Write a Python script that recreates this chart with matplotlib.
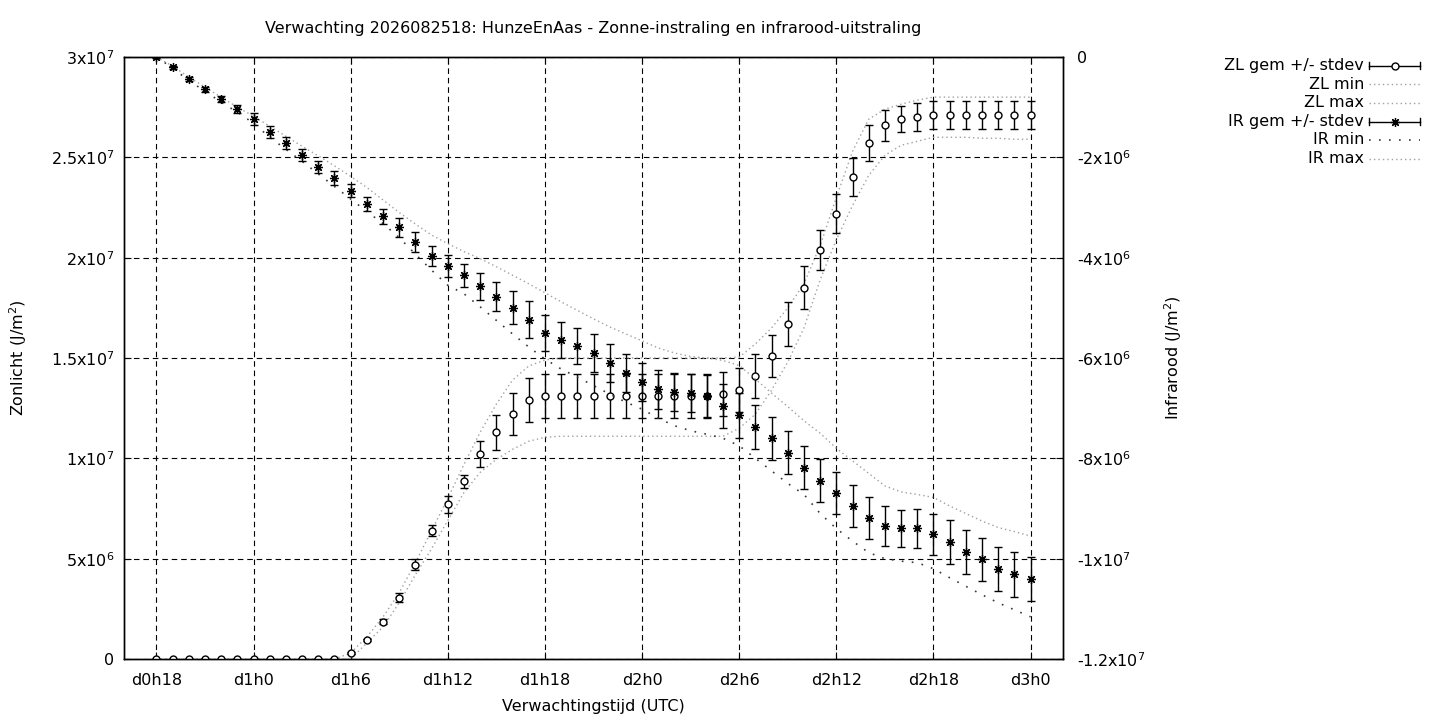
import matplotlib
matplotlib.use("Agg")
import matplotlib.pyplot as plt
import numpy as np
from matplotlib.lines import Line2D
from matplotlib.ticker import FixedLocator, FixedFormatter

# ---------------- data (values in units of 1e6 J/m^2) ----------------
SCALE = 1e6
hours = list(range(18, 73))

zl_mean = [0]*12 + [0.3, 0.95, 1.85, 3.05, 4.7, 6.4, 7.7, 8.85, 10.2, 11.3, 12.2, 12.9,
                    13.1, 13.1, 13.1, 13.1, 13.1, 13.1, 13.1, 13.1, 13.1, 13.1, 13.1,
                    13.2, 13.4, 14.1, 15.1, 16.7, 18.5, 20.4, 22.2, 24.0, 25.7,
                    26.6, 26.9, 27.0, 27.1, 27.1, 27.1, 27.1, 27.1, 27.1, 27.1]
zl_std = [0]*12 + [0.03, 0.06, 0.13, 0.22, 0.26, 0.29, 0.42, 0.33, 0.64, 0.86, 1.04, 1.1,
                   1.1, 1.1, 1.1, 1.1, 1.1, 1.1, 1.1, 1.1, 1.1, 1.1, 1.1,
                   1.1, 1.08, 1.08, 1.07, 1.08, 1.08, 1.0, 0.95, 0.95, 0.9,
                   0.78, 0.64, 0.7, 0.7, 0.7, 0.7, 0.7, 0.7, 0.7, 0.7]
zl_min = [0]*13 + [0.8, 1.6, 2.8, 4.2, 5.5, 6.9, 8.3, 9.3, 9.95, 10.45, 10.85, 11.05,
                   11.1, 11.1, 11.1, 11.1, 11.1, 11.1, 11.1, 11.1, 11.1, 11.1, 11.1,
                   11.5, 12.2, 13.4, 14.8, 16.5, 18.9, 20.9, 22.6, 24.1,
                   25.1, 25.6, 25.8, 26.0, 26.0, 26.0, 25.95, 25.95, 25.9, 25.9]
zl_max = [0]*12 + [0.3, 1.1, 2.1, 3.3, 4.8, 6.4, 8.0, 9.7, 11.3, 12.7, 13.9, 14.6, 14.9,
                   15.0, 15.0, 15.0, 15.0, 15.0, 15.0, 15.0, 15.0, 15.0, 15.0, 15.0,
                   15.05, 15.7, 16.5, 17.5, 18.7, 20.6, 23.0, 25.3, 26.9,
                   27.4, 27.65, 27.85, 28.0, 28.0, 28.0, 28.0, 28.0, 28.0, 28.0]

ir_mean = [0, -0.2, -0.44, -0.64, -0.84, -1.04, -1.24, -1.50, -1.71, -1.95,
           -2.19, -2.41, -2.67, -2.93, -3.17, -3.39, -3.69, -3.97, -4.17, -4.35,
           -4.57, -4.78, -5.0, -5.24, -5.50, -5.64, -5.76, -5.90, -6.10, -6.30,
           -6.48, -6.62, -6.68, -6.70, -6.76, -6.96, -7.14, -7.38, -7.60, -7.89,
           -8.19, -8.45, -8.69, -8.95, -9.19, -9.35, -9.39, -9.39, -9.51, -9.67,
           -9.87, -10.01, -10.21, -10.31, -10.41]
ir_std = [0.02, 0.03, 0.04, 0.05, 0.06, 0.08, 0.12, 0.12, 0.12, 0.12,
          0.12, 0.14, 0.13, 0.14, 0.15, 0.19, 0.2, 0.2, 0.22, 0.23,
          0.27, 0.29, 0.33, 0.37, 0.36, 0.36, 0.36, 0.37, 0.37, 0.37,
          0.38, 0.39, 0.38, 0.38, 0.42, 0.44, 0.45, 0.44, 0.43, 0.43,
          0.43, 0.43, 0.42, 0.42, 0.41, 0.4, 0.37, 0.39, 0.41, 0.44,
          0.44, 0.43, 0.44, 0.45, 0.44]
ir_min = [0, -0.22, -0.47, -0.68, -0.9, -1.1, -1.32, -1.6, -1.84, -2.08,
          -2.33, -2.58, -2.83, -3.08, -3.32, -3.6, -3.93, -4.25, -4.55, -4.72,
          -4.98, -5.25, -5.52, -5.78, -6.02, -6.22, -6.38, -6.55, -6.72, -6.88,
          -7.02, -7.2, -7.35, -7.45, -7.52, -7.6, -7.75, -8.0, -8.25, -8.5,
          -8.72, -9.1, -9.4, -9.65, -9.88, -10.0, -10.05, -10.08, -10.2, -10.38,
          -10.55, -10.72, -10.88, -11.02, -11.16]
ir_max = [0, -0.18, -0.4, -0.6, -0.8, -1.0, -1.18, -1.38, -1.58, -1.78,
          -1.97, -2.17, -2.38, -2.6, -2.85, -3.1, -3.33, -3.55, -3.72, -3.88,
          -4.02, -4.18, -4.35, -4.52, -4.7, -4.88, -5.05, -5.22, -5.38, -5.52,
          -5.66, -5.8, -5.9, -5.97, -6.0, -6.05, -6.15, -6.42, -6.7, -6.97,
          -7.25, -7.5, -7.8, -8.05, -8.3, -8.55, -8.67, -8.72, -8.78, -8.95,
          -9.1, -9.25, -9.38, -9.46, -9.55]

xtick_pos = [18, 24, 30, 36, 42, 48, 54, 60, 66, 72]
xtick_labels = ["d0h18", "d1h0", "d1h6", "d1h12", "d1h18", "d2h0", "d2h6", "d2h12", "d2h18", "d3h0"]
ytick_left = [0, 5e6, 1e7, 1.5e7, 2e7, 2.5e7, 3e7]
ytick_left_labels = ["0", r"5x10$^{6}$", r"1x10$^{7}$", r"1.5x10$^{7}$", r"2x10$^{7}$",
                     r"2.5x10$^{7}$", r"3x10$^{7}$"]
ytick_right = [0, -2e6, -4e6, -6e6, -8e6, -1e7, -1.2e7]
ytick_right_labels = ["0", r"-2x10$^{6}$", r"-4x10$^{6}$", r"-6x10$^{6}$", r"-8x10$^{6}$",
                      r"-1x10$^{7}$", r"-1.2x10$^{7}$"]

title = "Verwachting 2026082518: HunzeEnAas - Zonne-instraling en infrarood-uitstraling"
legend_labels = ["ZL gem +/- stdev", "ZL min", "ZL max", "IR gem +/- stdev", "IR min", "IR max"]

# ---------------- figure ----------------
W, H = 1440, 720
plt.rcParams["font.family"] = ["DejaVu Sans"]
plt.rcParams["mathtext.fontset"] = "dejavusans"
fig = plt.figure(figsize=(W / 100, H / 100), dpi=100)
L, R, T, B = 124, 1063, 57, 659
ax = fig.add_axes([L / W, 1 - B / H, (R - L) / W, (B - T) / H])
ax2 = ax.twinx()

FS = 11.5
x = np.array(hours, dtype=float)
s = SCALE

light_dot = dict(color="#a0a0a0", lw=1.0, linestyle=(0, (1, 2.2)))
dark_dot = dict(color="#383838", lw=1.2, linestyle=(0, (1, 5)))

ax.plot(x, np.array(zl_min) * s, zorder=3, **light_dot)
ax.plot(x, np.array(zl_max) * s, zorder=3, **light_dot)
ax.errorbar(x, np.array(zl_mean) * s, yerr=np.array(zl_std) * s, fmt="o", ms=5,
            mfc="white", mec="black", mew=1.0, ecolor="black", elinewidth=1.0,
            capsize=2.6, capthick=1.0, zorder=4)

star = (8, 2, 0)
ax2.plot(x, np.array(ir_min) * s, zorder=3, **dark_dot)
ax2.plot(x, np.array(ir_max) * s, zorder=3, **light_dot)
ax2.errorbar(x, np.array(ir_mean) * s, yerr=np.array(ir_std) * s, fmt="none",
             ecolor="black", elinewidth=1.0, capsize=2.6, capthick=1.0, zorder=4)
ax2.plot(x, np.array(ir_mean) * s, linestyle="none", marker=star, ms=6.5,
         mec="black", mew=0.9, color="black", zorder=5)

ax.set_xlim(16, 74)
ax.set_ylim(0, 3e7)
ax2.set_ylim(-1.2e7, 0)

ax.xaxis.set_major_locator(FixedLocator(xtick_pos))
ax.xaxis.set_major_formatter(FixedFormatter(xtick_labels))
ax.yaxis.set_major_locator(FixedLocator(ytick_left))
ax.yaxis.set_major_formatter(FixedFormatter(ytick_left_labels))
ax2.yaxis.set_major_locator(FixedLocator(ytick_right))
ax2.yaxis.set_major_formatter(FixedFormatter(ytick_right_labels))

ax.tick_params(axis="x", direction="in", length=5, width=0.8, labelsize=FS, pad=10, top=True)
ax.tick_params(axis="y", direction="in", length=5, width=0.8, labelsize=FS, pad=7)
ax2.tick_params(axis="y", direction="in", length=5, width=0.8, labelsize=FS, pad=10)

grid_style = dict(color="black", linestyle=(0, (5, 3.5)), linewidth=0.8)
ax.grid(True, **grid_style)
ax.set_axisbelow(True)
for a in (ax, ax2):
    for sp in a.spines.values():
        sp.set_linewidth(1.0)
        sp.set_color("black")

ax.set_ylabel(r"Zonlicht (J/m$^{2}$)", fontsize=FS, va="center")
ax.yaxis.set_label_coords((18 - L) / (R - L), 0.5)
ax2.set_ylabel(r"Infrarood (J/m$^{2}$)", fontsize=FS, va="center")
ax2.yaxis.set_label_coords((1173 - L) / (R - L), 0.5)
ax.set_xlabel("Verwachtingstijd (UTC)", fontsize=FS, va="center")
ax.xaxis.set_label_coords(0.5, (B - 706) / (B - T))
fig.text((L + R) / 2 / W, 1 - 29 / H, title, ha="center", va="center", fontsize=FS)

# ---------------- legend (gnuplot style, outside right) ----------------
def fx(px):
    return px / W

def fy(py):
    return 1 - py / H

rows = [65.7, 84.3, 102.5, 121.7, 140.0, 158.5]
tx, s0, s1 = 1364, 1369, 1420
cap_h = 3.5
for i, (lab, ry) in enumerate(zip(legend_labels, rows)):
    fig.text(fx(tx), fy(ry), lab, ha="right", va="center", fontsize=FS)
    if i in (0, 3):
        fig.add_artist(Line2D([fx(s0), fx(s1)], [fy(ry), fy(ry)], color="black", lw=1.0))
        for xe in (s0, s1):
            fig.add_artist(Line2D([fx(xe), fx(xe)], [fy(ry - cap_h), fy(ry + cap_h)],
                                  color="black", lw=1.0))
        mx = (s0 + s1) / 2
        if i == 0:
            fig.add_artist(Line2D([fx(mx)], [fy(ry)], marker="o", ms=5, mfc="white",
                                  mec="black", mew=1.0, linestyle="none"))
        else:
            fig.add_artist(Line2D([fx(mx)], [fy(ry)], marker=star, ms=6.5,
                                  mec="black", mew=0.9, color="black", linestyle="none"))
    elif i == 4:
        fig.add_artist(Line2D([fx(s0), fx(s1)], [fy(ry), fy(ry)], **dark_dot))
    else:
        fig.add_artist(Line2D([fx(s0), fx(s1)], [fy(ry), fy(ry)], **light_dot))

fig.savefig("out.png", dpi=100)
